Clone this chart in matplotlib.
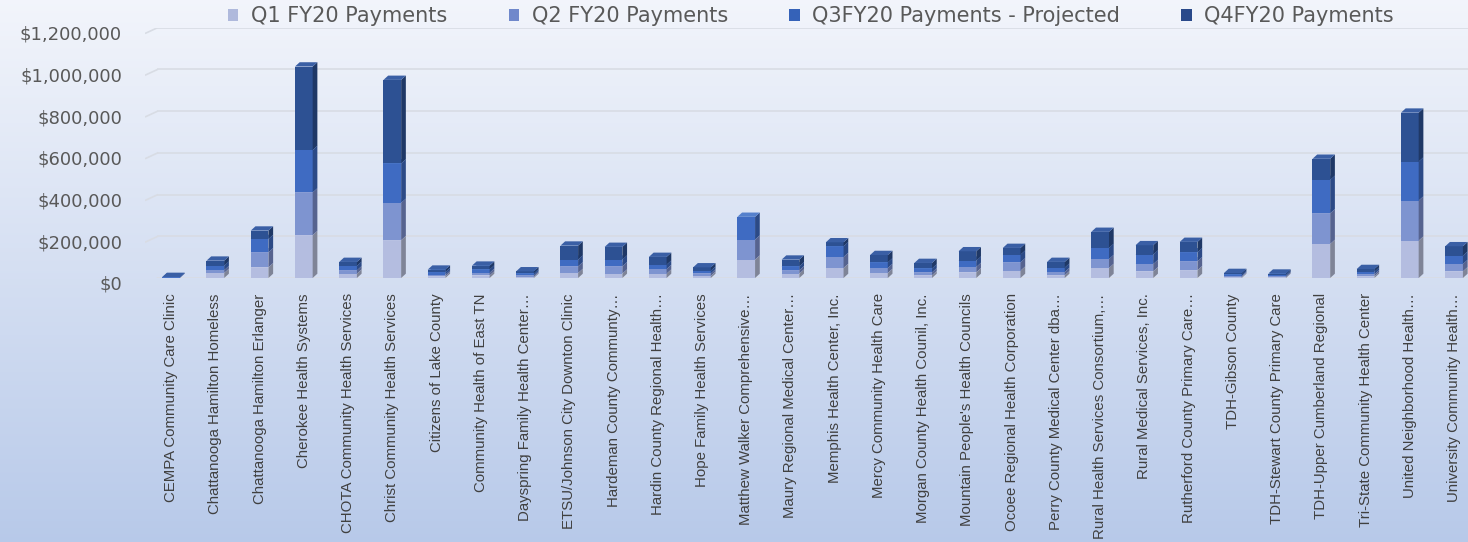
import numpy as np
import matplotlib
matplotlib.use("Agg")
import matplotlib.pyplot as plt
from matplotlib import font_manager as fm
from matplotlib.patches import Polygon, Patch
from matplotlib.transforms import ScaledTranslation
from matplotlib.ticker import FuncFormatter

# ---------------- data ----------------
categories = [
    "CEMPA Community Care Clinic", "Chattanooga Hamilton Homeless",
    "Chattanooga Hamilton Erlanger", "Cherokee Health Systems",
    "CHOTA Community Health Services", "Christ Community Health Services",
    "Citizens of Lake County", "Community Health of East TN",
    "Dayspring Family Health Center…", "ETSU/Johnson City Downton Clinic",
    "Hardeman County Communty…", "Hardin County Regional Health…",
    "Hope Family Health Services", "Matthew Walker Comprehensive…",
    "Maury Regional Medical Center…", "Memphis Health Center, Inc.",
    "Mercy Community Health Care", "Morgan County Health Counil, Inc.",
    "Mountain People's Health Councils", "Ocoee Regional Health Corporation",
    "Perry County Medical Center dba…", "Rural Health Services Consortium,…",
    "Rural Medical Services, Inc.", "Rutherford County Primary Care…",
    "TDH-Gibson County", "TDH-Stewart County Primary Care",
    "TDH-Upper Cumberland Regional", "Tri-State Community Health Center",
    "United Neighborhood Health…", "University Community Health…",
]
series_names = ["Q1 FY20 Payments", "Q2 FY20 Payments",
                "Q3FY20 Payments - Projected", "Q4FY20 Payments"]
q1 = [1000, 24000, 51000, 205000, 21000, 181000, 8000, 12000, 6000, 24000,
      21000, 21000, 10000, 88000, 21000, 48000, 24000, 13000, 27000, 35000,
      13000, 48000, 32000, 37000, 5000, 4000, 163000, 8000, 179000, 32000]
q2 = [1000, 14000, 72000, 205000, 16000, 179000, 8000, 13000, 7000, 32000,
      35000, 22000, 12000, 96000, 16000, 53000, 24000, 14000, 26000, 40000,
      16000, 43000, 35000, 43000, 5000, 5000, 147000, 10000, 192000, 35000]
q3 = [1000, 21000, 64000, 203000, 21000, 189000, 12000, 16000, 9000, 32000,
      32000, 21000, 13000, 109000, 19000, 51000, 27000, 19000, 30000, 37000,
      21000, 53000, 45000, 43000, 7000, 6000, 160000, 12000, 187000, 40000]
q4 = [2000, 24000, 40000, 400000, 19000, 400000, 12000, 18000, 10000, 67000,
      61000, 37000, 16000, 0, 32000, 19000, 35000, 26000, 45000, 32000,
      27000, 77000, 45000, 50000, 7000, 6000, 101000, 13000, 234000, 45000]
y_ticks = [0, 200000, 400000, 600000, 800000, 1000000, 1200000]

# ---------------- style ----------------
W, H, DPI = 1468, 542, 100
front_cols = ["#B4BDE0", "#7E94D0", "#3F6BC2", "#2D5193"]
side_cols = ["#7F8497", "#56638F", "#2C4A86", "#1F3866"]
top_cols = ["#C9D0EA", "#98A9DA", "#5580CC", "#3A5FA5"]
legend_cols = ["#AFB9DC", "#7088CB", "#3562B8", "#29498A"]


def has_font(name):
    try:
        fm.findfont(fm.FontProperties(family=name), fallback_to_default=False)
        return True
    except Exception:
        return False


if has_font("Liberation Sans Narrow"):
    cat_font, cat_size = "Liberation Sans Narrow", 13.0
elif has_font("Liberation Sans"):
    cat_font, cat_size = "Liberation Sans", 10.8
else:
    cat_font, cat_size = "DejaVu Sans", 10.0

fig = plt.figure(figsize=(W / DPI, H / DPI), dpi=DPI)

# background gradient
bg = fig.add_axes([0, 0, 1, 1], zorder=-10)
t = np.linspace(0, 1, 256)[:, None, None]
c_top = np.array([0.95, 0.96, 0.985])
c_bot = np.array([0.72, 0.79, 0.915])
bg.imshow(c_top + (c_bot - c_top) * t, aspect="auto", extent=[0, 1, 0, 1],
          origin="upper")
bg.axis("off")

# main axes
ax_l, ax_r, ax_b, ax_t = 145, 1468, 278, 27.5
ax = fig.add_axes([ax_l / W, (H - ax_b) / H, (ax_r - ax_l) / W, (ax_b - ax_t) / H])
ax.patch.set_alpha(0)
for s in ax.spines.values():
    s.set_visible(False)

x = np.arange(len(categories))
x_lo = -0.59
x_hi = x_lo + (ax_r - ax_l) / 44.24
ax.set_xlim(x_lo, x_hi)
ax.set_ylim(0, 1200000)

# pixel -> data units
ux = (x_hi - x_lo) / (ax_r - ax_l)
uy = 1200000 / (ax_b - ax_t)
dx, dy = 4.7 * ux, 4.3 * uy

# gridlines (back wall) with small perspective stub at the left
for v in y_ticks:
    ax.plot([x_lo, x_lo + 13 * ux], [v - 6 * uy, v], color="#D8DCE4", lw=1.2,
            zorder=1, solid_capstyle="butt")
    ax.plot([x_lo + 13 * ux, x_hi], [v, v], color="#D8DCE4", lw=1.2, zorder=1)

# 3D stacked bars
bw = 0.40
series = [np.array(q1), np.array(q2), np.array(q3), np.array(q4)]
bottoms = np.zeros(len(categories))
for k, vals in enumerate(series):
    z = 3 + k
    ax.bar(x, vals, width=bw, bottom=bottoms, color=front_cols[k],
           edgecolor="none", zorder=z)
    for i in range(len(categories)):
        if vals[i] <= 0:
            continue
        x0, x1 = x[i] - bw / 2, x[i] + bw / 2
        y0, y1 = bottoms[i], bottoms[i] + vals[i]
        ax.add_patch(Polygon([(x1, y0), (x1, y1), (x1 + dx, y1 + dy),
                              (x1 + dx, y0 + dy)], closed=True,
                             facecolor=side_cols[k], edgecolor="none", zorder=z))
        ax.add_patch(Polygon([(x0, y1), (x1, y1), (x1 + dx, y1 + dy),
                              (x0 + dx, y1 + dy)], closed=True,
                             facecolor=top_cols[k], edgecolor="none", zorder=z))
    bottoms = bottoms + vals

# y axis
ax.set_yticks(y_ticks)
ax.yaxis.set_major_formatter(FuncFormatter(lambda v, p: f"${v:,.0f}"))
ax.tick_params(axis="y", length=0, pad=16.5, labelsize=13, labelcolor="#595959")
for lab in ax.get_yticklabels():
    lab.set_transform(lab.get_transform() +
                      ScaledTranslation(0, -5 / DPI, fig.dpi_scale_trans))

# x axis
ax.set_xticks(x)
ax.set_xticklabels(categories, rotation=90, fontsize=cat_size, color="#404040",
                   family=[cat_font, "DejaVu Sans"])
ax.tick_params(axis="x", length=0, pad=11)

# legend
handles = [Patch(facecolor=c, edgecolor="none") for c in legend_cols]
fig.legend(handles, series_names, loc="center",
           bbox_to_anchor=(811 / W, 1 - 16 / H), ncol=4, frameon=False,
           fontsize=15, handlelength=0.5, handleheight=0.5,
           handletextpad=0.6, columnspacing=2.95, labelcolor="#595959",
           borderpad=0, borderaxespad=0)

fig.savefig("out.png", dpi=DPI)
